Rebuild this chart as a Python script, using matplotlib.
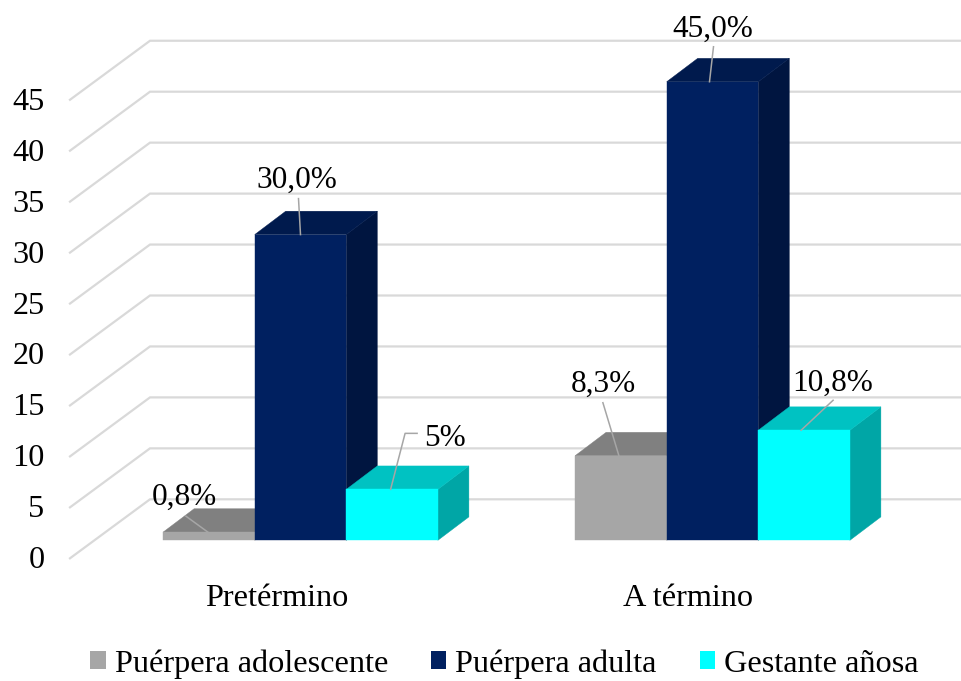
#!/usr/bin/env python3
import matplotlib
matplotlib.use("Agg")
import matplotlib.pyplot as plt
from matplotlib.patches import Patch, Polygon

plt.rcParams['font.family'] = ['Liberation Serif', 'DejaVu Serif']

# Data
categories = ["Pretérmino", "A término"]
series_names = ["Puérpera adolescente", "Puérpera adulta", "Gestante añosa"]
adolescente = [0.8, 8.3]
adulta = [30.0, 45.0]
anosa = [5.0, 10.8]
label_texts = [["0,8%", "8,3%"], ["30,0%", "45,0%"], ["5%", "10,8%"]]
y_ticks = [0, 5, 10, 15, 20, 25, 30, 35, 40, 45]

# Colours: front, top, side
colors = [("#A6A6A6", "#808080", "#7C7C7C"),
          ("#002060", "#001A4D", "#001540"),
          ("#00FFFF", "#00C2C2", "#00A6A6")]
grid_color = "#D9D9D9"
leader_color = "#A6A6A6"

# Layout in pixels of the 961x681 picture
W, H = 961, 681
x_first, x_step = 300.5, 412.0    # centre of each category on the bar plane
y_zero, y_unit = 540.3, 10.19     # value 0 and px per unit on the bar plane
bar_w = 91.6
FS = 23.2
FS_LABEL = 22.5

fig = plt.figure(figsize=(W / 100, H / 100), dpi=100)
ax = fig.add_axes([0, 0, 1, 1])
ax.set_xlim(-x_first / x_step, (W - x_first) / x_step)
ax.set_ylim((y_zero - H) / y_unit, y_zero / y_unit)
ax.axis("off")


def dx(px):
    return px / x_step


def dy(px):
    return px / y_unit


# Wall gridlines, from the front edge back to the wall, then along it
for v in y_ticks:
    ax.plot([dx(70 - x_first), dx(150 - x_first), dx(W - x_first)],
            [v + dy(-18), v + dy(41), v + dy(41)],
            color=grid_color, lw=1.6, solid_joinstyle="miter", zorder=1)
    ax.text(dx(44.5 - x_first), v + dy(-20.5), str(v), ha="right", va="center",
            fontsize=FS, color="black", zorder=5)

# Bars with their top and side faces
depth_x, depth_y = dx(31), dy(23.4)
width = dx(bar_w)
values = [adolescente, adulta, anosa]
z = 2
for c in range(len(categories)):
    for s in range(len(values)):
        v = values[s][c]
        left = c + (s - 1.5) * width
        right = left + width
        front, top, side = colors[s]
        faces = [
            ([(right, 0), (right + depth_x, depth_y), (right + depth_x, v + depth_y), (right, v)], side),
            ([(left, v), (right, v), (right + depth_x, v + depth_y), (left + depth_x, v + depth_y)], top),
            ([(left, 0), (right, 0), (right, v), (left, v)], front),
        ]
        for pts, col in faces:
            ax.add_patch(Polygon(pts, closed=True, facecolor=col, edgecolor=col, lw=0.3, zorder=z))
            z += 1

# Data labels: text centre and leader path, as px offsets from the bar's top-front centre
# (negative y goes up the picture)
label_offsets = [[(-25, -35), (-18, -71)], [(-4, -54), (0, -52)], [(53, -51), (29, -47)]]
leader_paths = [[[(-1, 0), (-23, -16)], [(-2, 0), (-18, -53)]],
                [[(0, 0), (-2, -36)], [(-3, 0), (1, -35)]],
                [[(-1.5, 0), (13, -56), (25, -56)], [(-3, 0), (29, -30)]]]
for s in range(len(values)):
    for c in range(len(categories)):
        v = values[s][c]
        cx = c + (s - 1) * width
        xs = [cx + dx(p[0]) for p in leader_paths[s][c]]
        ys = [v - dy(p[1]) for p in leader_paths[s][c]]
        ax.plot(xs, ys, color=leader_color, lw=1.1, zorder=z)
        off = label_offsets[s][c]
        ax.text(cx + dx(off[0]), v - dy(off[1]), label_texts[s][c], ha="center", va="center",
                fontsize=FS_LABEL, color="black", zorder=z + 1)

# Category labels sit on the front edge of the floor
for c, name in enumerate(categories):
    ax.text(c + dx(-24), dy(-58), name, ha="center", va="center", fontsize=FS, color="black")

handles = [Patch(facecolor=colors[i][0], edgecolor="none", label=series_names[i]) for i in range(3)]
ax.legend(handles=handles, ncol=3, frameon=False, fontsize=FS, loc="center",
          bbox_to_anchor=(504.5 / W, 1 - 664 / H), bbox_transform=fig.transFigure,
          handlelength=0.47, handleheight=0.47, handletextpad=0.28, columnspacing=1.34,
          borderpad=0, borderaxespad=0)

fig.savefig("out.png", dpi=100)
